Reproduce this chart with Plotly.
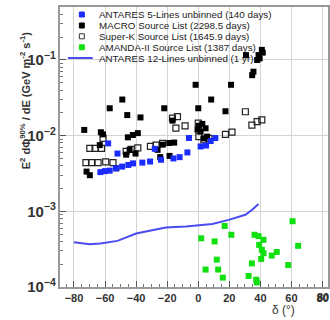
import plotly.graph_objects as go

# ANTARES 5-Lines unbinned (140 days)
ant5_dec = [-63, -60, -57, -53, -49, -45, -42, -36, -31, -24, -16, -12, -7, 1.5, 5, 11, -6, -28, -52, -58, 8]
ant5_lim = [3.3e-3, 3.4e-3, 3.45e-3, 3.7e-3, 3.9e-3, 4.1e-3, 4.3e-3, 4.4e-3, 4.55e-3, 4.8e-3, 5.0e-3,
            5.2e-3, 6.0e-3, 7.2e-3, 7.4e-3, 9.3e-3, 9.3e-3, 6.7e-3, 5.8e-3, 7.9e-3, 8.5e-3]

# MACRO Source List (2298.5 days)
macro_dec = [30.7, 34.7, 35.5, 37.9, 38.8, 40.9, 39.5, 41.5, -1.7, 21.1, -48.9, 8.3, -57, -21.9, 0, 17.5,
             -45.7, -37.2, -73.4, -62.7, -61.3, -45.3, -42.1, -38.9, -16.6, 0.4, 2.6, 4.7, -0.5,
             -71.9, -69.8, -52.7, -46.4, -40.4, -44.2, -63.4, -26.2, -23, -18.7, -15.5, 3.6, 5.7,
             -24.5, -18.5, 1.5]
macro_lim = [0.116, 0.063, 0.070, 0.100, 0.116, 0.136, 0.105, 0.125, 0.047, 0.047, 0.030, 0.030, 0.023,
             0.023, 0.023, 0.021, 0.0187, 0.0174, 0.0119, 0.0111, 0.0104, 0.0095, 0.0102, 0.0108,
             0.0158, 0.0135, 0.0143, 0.0125, 0.012, 3.35e-3, 3.0e-3, 3.7e-3, 5.6e-3, 5.8e-3, 6.5e-3,
             7.5e-3, 6.5e-3, 7.6e-3, 8.0e-3, 8.1e-3, 9.2e-3, 9.7e-3, 5.2e-3, 5.4e-3, 0.0113]

# Super-K Source List (1645.9 days)
superk_dec = [-69.8, -66.5, -62.3, -72.3, -68.7, -64.5, -59.6, -54.9, -61.3, -46.4, -43.2, -38.9, -30.8,
              -27.2, -23, -16.6, -13.4, -14.4, -8.5, 0.4, 3.6, 6.8, 17.5, 21.7, 30.3, 34.5, 37.9, 40.9, 0]
superk_lim = [6.8e-3, 6.8e-3, 6.8e-3, 4.4e-3, 4.4e-3, 4.4e-3, 4.5e-3, 4.4e-3, 9.2e-3, 6.2e-3, 6.6e-3,
              6.9e-3, 7.2e-3, 7.5e-3, 7.9e-3, 0.017, 0.0178, 0.0126, 0.0135, 9.7e-3, 8.8e-3, 9.2e-3,
              0.0104, 0.0111, 0.0207, 0.0138, 0.0153, 0.0162, 0.0146]

# AMANDA-II Source List (1387 days)
amanda_dec = [1.9, 10.5, 17, 21.3, 11.9, 4.7, 12.8, 15.8, 36.2, 38.8, 42, 39.2, 40.9, 42, 40.5, 34.5,
              32.4, 37.3, 37.7, 47.3, 50.5, 60.7, 64.3, 57.9]
amanda_lim = [4.4e-4, 4.0e-4, 6.4e-4, 4.9e-4, 2.3e-4, 1.7e-4, 1.7e-4, 1.33e-4, 4.9e-4, 4.7e-4, 4.2e-4,
              3.6e-4, 3.1e-4, 2.8e-4, 2.35e-4, 2.05e-4, 1.4e-4, 1.25e-4, 1.15e-4, 2.6e-4, 2.9e-4,
              7.4e-4, 3.5e-4, 1.95e-4]

# ANTARES 12-Lines unbinned (1 yr) sensitivity curve
ant12_dec = [-80, -70, -63, -52, -40, -29, -21, -8, 0, 9, 19.6, 30.3, 34.5, 38.8]
ant12_sens = [3.9e-4, 3.67e-4, 3.75e-4, 4.07e-4, 5.1e-4, 5.7e-4, 6.1e-4, 6.3e-4, 6.6e-4, 6.8e-4,
              7.7e-4, 9.0e-4, 1.04e-3, 1.25e-3]

legend_labels = ["ANTARES 5-Lines unbinned (140 days)", "MACRO Source List (2298.5 days)",
                 "Super-K Source List (1645.9 days)", "AMANDA-II Source List (1387 days)",
                 "ANTARES 12-Lines unbinned (1 yr)"]

x_ticks = [-80, -60, -40, -20, 0, 20, 40, 60, 80]

FONT = "Liberation Sans"
TICKFONT = dict(family=FONT, size=11, color="#333", weight="bold")

fig = go.Figure()
fig.add_trace(go.Scatter(x=ant12_dec, y=ant12_sens, mode="lines",
                         line=dict(color="#4b4bf0", width=2), showlegend=False))
fig.add_trace(go.Scatter(x=superk_dec, y=superk_lim, mode="markers",
                         marker=dict(symbol="square-open", size=6, color="#222", line=dict(width=1.2)),
                         showlegend=False))
fig.add_trace(go.Scatter(x=macro_dec, y=macro_lim, mode="markers",
                         marker=dict(symbol="square", size=6, color="#000"), showlegend=False))
fig.add_trace(go.Scatter(x=ant5_dec, y=ant5_lim, mode="markers",
                         marker=dict(symbol="square", size=6, color="#1a2cff"), showlegend=False))
fig.add_trace(go.Scatter(x=amanda_dec, y=amanda_lim, mode="markers",
                         marker=dict(symbol="square", size=6, color="#10e010"), showlegend=False))

# manual legend (paper coords; plot area 270x280 px)
def px2x(p):
    return (p - 60) / 270.0

def py2y(p):
    return (287 - p) / 280.0

rows = [14.5, 25.5, 36.3, 47.3, 58]
sym = [("#1a2cff", "#1a2cff"), ("#000", "#000"), ("white", "#333"), ("#10e010", "#10e010")]
for i, (fc, lc) in enumerate(sym):
    fig.add_shape(type="rect", xref="paper", yref="paper",
                  x0=px2x(79.5), x1=px2x(84.5), y0=py2y(rows[i] + 2.5), y1=py2y(rows[i] - 2.5),
                  fillcolor=fc, line=dict(color=lc, width=1))
fig.add_shape(type="line", xref="paper", yref="paper", x0=px2x(68), x1=px2x(93),
              y0=py2y(rows[4]), y1=py2y(rows[4]), line=dict(color="#4b4bf0", width=2))
for i, lab in enumerate(legend_labels):
    fig.add_annotation(text=lab, xref="paper", yref="paper", x=px2x(97), y=py2y(rows[i]),
                       xanchor="left", yanchor="middle", showarrow=False,
                       font=dict(family=FONT, size=9.8, color="#222"))

# x-axis title
fig.add_annotation(text="δ (°)", xref="paper", yref="paper", x=px2x(285), y=py2y(310),
                   xanchor="center", yanchor="middle", showarrow=False,
                   font=dict(family=FONT, size=12, color="#333"))
# rightmost tick label (sits at the page edge)
fig.add_annotation(text=str(x_ticks[-1]), xref="x", yref="paper", x=x_ticks[-1], y=py2y(297),
                   xanchor="center", yanchor="middle", showarrow=False, font=TICKFONT)
# y-axis title
fig.add_annotation(text="E<sup>2</sup> dΦ<sup>90%</sup> / dE (GeV m<sup>-2</sup> s<sup>-1</sup>)",
                   xref="paper", yref="paper", x=px2x(25), y=py2y(100), textangle=-90,
                   xanchor="center", yanchor="middle", showarrow=False,
                   font=dict(family=FONT, size=11, color="#333", weight="bold"))

fig.update_layout(
    width=330, height=320,
    margin=dict(l=60, r=0, t=7, b=33),
    paper_bgcolor="white", plot_bgcolor="white",
    font=dict(family=FONT, color="#333"),
    showlegend=False,
)
fig.update_xaxes(range=[-89, 83.5], tickvals=x_ticks, ticks="inside", ticklen=6,
                 tickcolor="#555", showgrid=True, gridcolor="#d4d4d4", gridwidth=1,
                 showline=True, linecolor="#999", linewidth=1.5, mirror=True, zeroline=False,
                 minor=dict(ticks="inside", ticklen=3, dtick=5, tickcolor="#777", showgrid=False),
                 tickfont=TICKFONT)
fig.update_yaxes(type="log", range=[-4, -0.30], dtick=1, exponentformat="power", showexponent="all",
                 ticks="inside", ticklen=6, tickcolor="#555",
                 showgrid=True, gridcolor="#d4d4d4", gridwidth=1,
                 showline=True, linecolor="#999", linewidth=1.5, mirror=True, zeroline=False,
                 minor=dict(ticks="inside", ticklen=3, tickcolor="#777", showgrid=False),
                 tickfont=dict(family=FONT, size=12, color="#333", weight="bold"))

fig.write_html("out.html")
